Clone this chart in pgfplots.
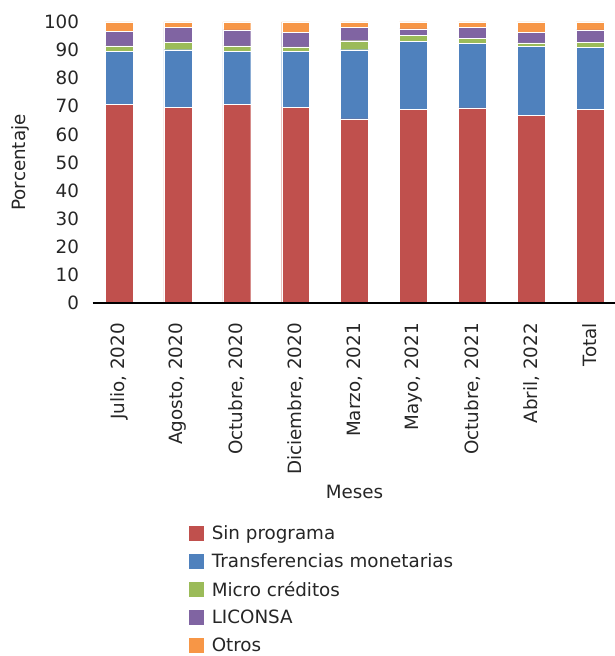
\documentclass[border=0pt]{standalone}
\usepackage{pgfplots}
\pgfplotsset{compat=1.18}
\usepackage{fontspec}
\setmainfont{DejaVu Sans}
\definecolor{cRed}{HTML}{C0504D}
\definecolor{cBlue}{HTML}{4F81BD}
\definecolor{cGreen}{HTML}{9BBB59}
\definecolor{cPurple}{HTML}{8064A2}
\definecolor{cOrange}{HTML}{F79646}
\definecolor{txt}{HTML}{262626}
\begin{document}
\begin{tikzpicture}
\begin{axis}[
    name=ax,
    scale only axis,
    axis on top,
    width=395pt, height=212pt,
    ybar stacked, bar width=21pt,
    xmin=-0.45, xmax=8.45, ymin=0, ymax=100,
    ytick={0,10,...,100},
    xtick=data,
    xticklabels={{Julio, 2020},{Agosto, 2020},{Octubre, 2020},{Diciembre, 2020},{Marzo, 2021},{Mayo, 2021},{Octubre, 2021},{Abril, 2022},{Total}},
    x tick label style={rotate=90, anchor=east, inner xsep=15pt},
    y tick label style={inner xsep=10pt},
    tick style={draw=none},
    axis x line*=bottom, axis y line*=left,
    axis line style={-},
    x axis line style={black, line width=1.5pt},
    y axis line style={draw=none},
    font=\fontsize{13.8}{16}\selectfont,
    tick label style={font=\fontsize{13.8}{16}\selectfont, text=txt},
    /pgf/number format/assume math mode=true,
    xlabel={Meses}, ylabel={Porcentaje},
    label style={text=txt},
    x label style={at={(axis description cs:0.5,-0.671)}, anchor=center},
    y label style={at={(axis description cs:-0.1385,0.5)}, anchor=center},
    legend cell align=left,
    legend style={at={(0.184,-0.781)}, anchor=north west, draw=none, inner sep=0pt,
        row sep=5pt, font=\fontsize{13.8}{16}\selectfont, text=txt,
        /tikz/every even column/.append style={column sep=6pt}},
    legend image code/.code={\fill[#1, draw=none] (0pt,-5.5pt) rectangle (11pt,5.5pt);},
]
\addplot[fill=cRed, draw=white, line width=0.3pt] coordinates {(0,70.6) (1,69.7) (2,70.6) (3,69.7) (4,65.5) (5,69.0) (6,69.4) (7,66.7) (8,69.0)};
\addlegendentry{\hspace{4pt}Sin programa}
\addplot[fill=cBlue, draw=white, line width=0.3pt] coordinates {(0,18.9) (1,20.4) (2,18.9) (3,19.8) (4,24.6) (5,24.0) (6,22.9) (7,24.6) (8,21.9)};
\addlegendentry{\hspace{4pt}Transferencias monetarias}
\addplot[fill=cGreen, draw=white, line width=0.3pt] coordinates {(0,2.0) (1,2.7) (2,2.0) (3,1.6) (4,3.2) (5,2.1) (6,1.8) (7,1.2) (8,1.9)};
\addlegendentry{\hspace{4pt}Micro créditos}
\addplot[fill=cPurple, draw=white, line width=0.3pt] coordinates {(0,5.1) (1,5.2) (2,5.7) (3,5.1) (4,4.7) (5,2.4) (6,3.9) (7,3.7) (8,4.4)};
\addlegendentry{\hspace{4pt}LICONSA}
\addplot[fill=cOrange, draw=white, line width=0.3pt] coordinates {(0,3.4) (1,2.0) (2,2.8) (3,3.8) (4,2.0) (5,2.5) (6,2.0) (7,3.8) (8,2.8)};
\addlegendentry{\hspace{4pt}Otros}
\end{axis}
\pgfresetboundingbox
\path ([xshift=-69.75pt, yshift=16.5pt]ax.north west) rectangle ([xshift=-1.5pt, yshift=-266pt]ax.south east);
\end{tikzpicture}
\end{document}
